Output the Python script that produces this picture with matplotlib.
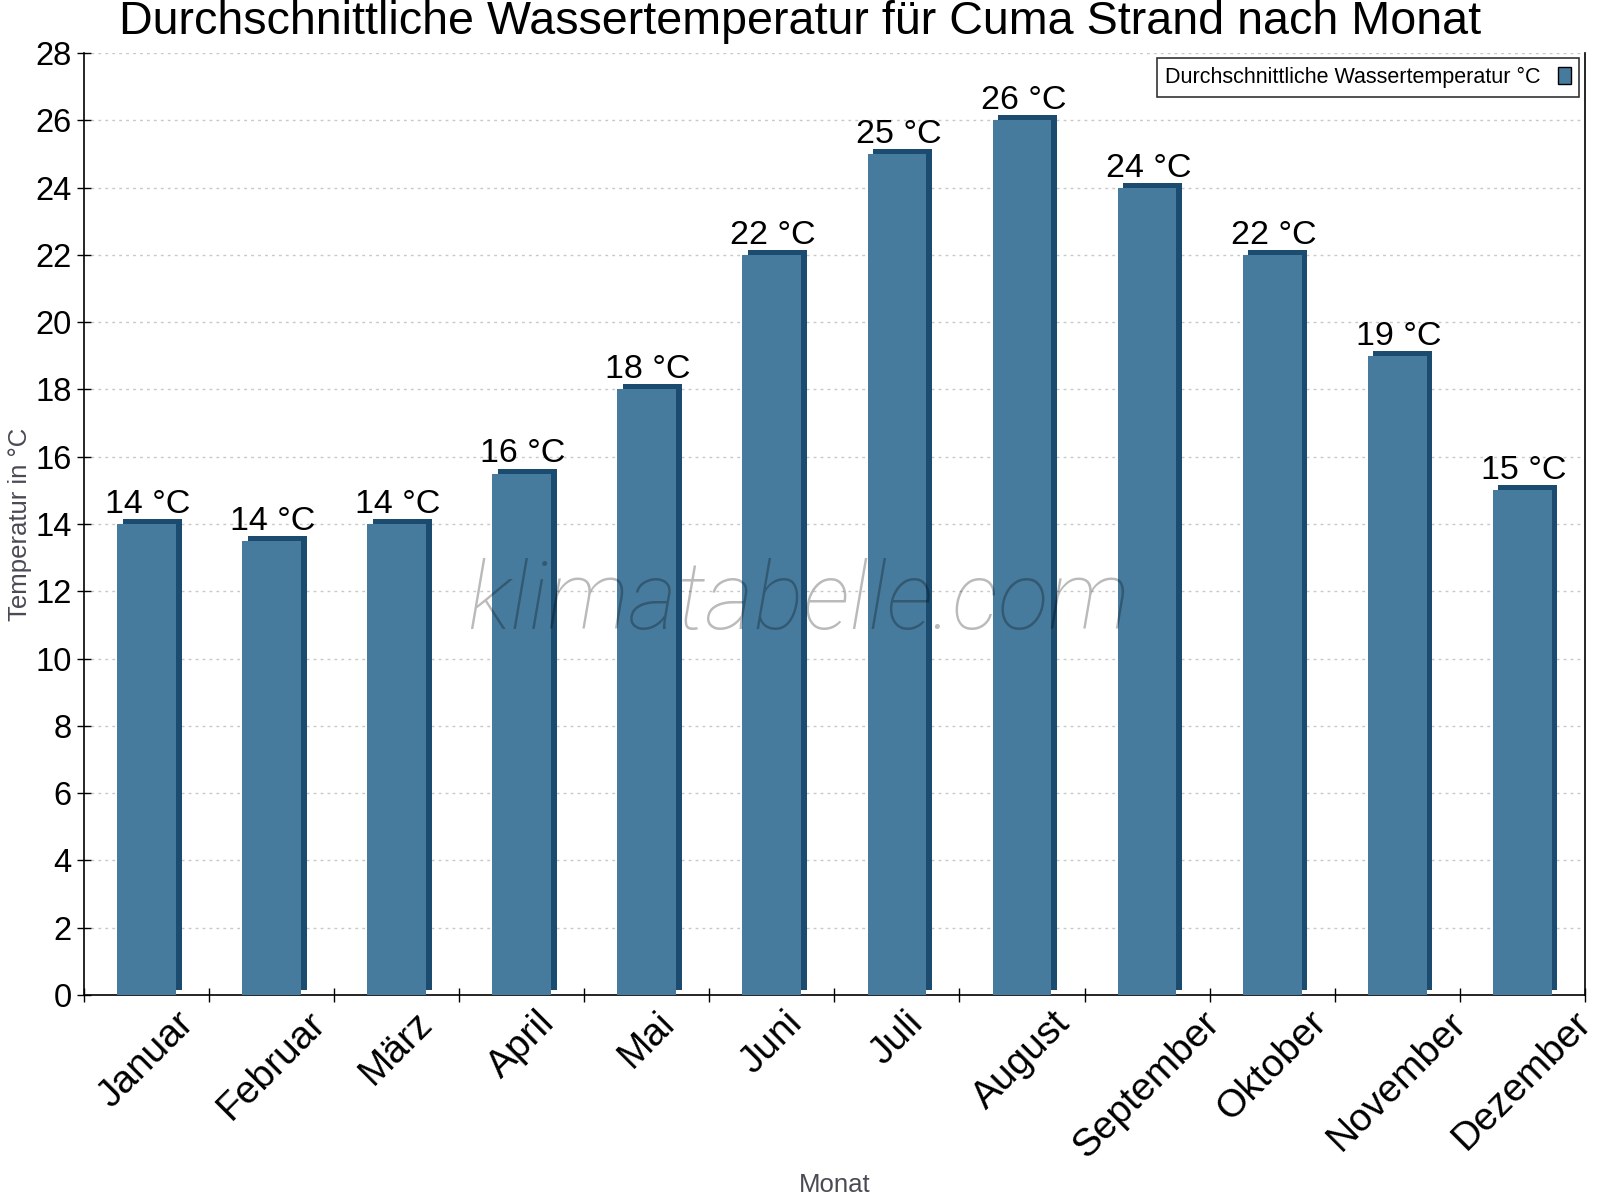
import matplotlib
matplotlib.use("Agg")
import matplotlib.pyplot as plt
from matplotlib.transforms import ScaledTranslation
from matplotlib.ticker import MultipleLocator, FixedLocator

months = ["Januar", "Februar", "März", "April", "Mai", "Juni", "Juli",
          "August", "September", "Oktober", "November", "Dezember"]
water_temp = [14, 13.5, 14, 15.5, 18, 22, 25, 26, 24, 22, 19, 15]
value_labels = ["14 °C", "14 °C", "14 °C", "16 °C", "18 °C", "22 °C", "25 °C",
                "26 °C", "24 °C", "22 °C", "19 °C", "15 °C"]
series_name = "Durchschnittliche Wassertemperatur °C"
title = "Durchschnittliche Wassertemperatur für Cuma Strand nach Monat"

plt.rcParams['font.family'] = ['Liberation Sans', 'DejaVu Sans']

face = "#467b9d"
dark = "#1b4b6f"

fig = plt.figure(figsize=(16, 12), dpi=100)
ax = fig.add_axes([0.0525, 0.1708, 0.938, 0.785])

x = list(range(len(months)))
width = 0.47

# 3D-like depth: dark copy of bars shifted right/up
shift = ax.transData + ScaledTranslation(0.056, 0.05, fig.dpi_scale_trans)
ax.bar(x, water_temp, width=width, color=dark, transform=shift, zorder=2)
bars = ax.bar(x, water_temp, width=width, color=face, zorder=3, label=series_name)

for xi, v, lab in zip(x, water_temp, value_labels):
    ax.annotate(lab, (xi, v), xytext=(1, 8), textcoords="offset points",
                ha="center", va="baseline", fontsize=24.5, color="black", zorder=5)

ax.set_xlim(-0.5, len(months) - 0.5)
ax.set_ylim(0, 28)
ax.yaxis.set_major_locator(MultipleLocator(2))
ax.set_xticks(x)
ax.set_xticklabels(months, rotation=45, ha="center", va="top", fontsize=28)
ax.xaxis.set_minor_locator(FixedLocator([i + 0.5 for i in range(-1, len(months))]))
ax.tick_params(axis="x", which="major", length=0, pad=7)
ax.tick_params(axis="x", which="minor", direction="inout", length=10, width=1)
ax.tick_params(axis="y", which="major", direction="inout", length=10, width=1,
               labelsize=23.5, pad=4)

ax.grid(axis="y", color="#c8c8c8", linestyle=(0, (2, 3)), linewidth=1, zorder=0)
ax.set_axisbelow(True)

for s in ["left", "bottom", "right"]:
    ax.spines[s].set_color("black")
    ax.spines[s].set_linewidth(1.2)
ax.spines["top"].set_visible(False)

ax.set_ylabel("Temperatur in °C", fontsize=18.5, color="#4a4a55", labelpad=2)
ax.set_xlabel("Monat", fontsize=18.5, color="#4a4a55", labelpad=6)

fig.text(0.5, 0.982, title, ha="center", va="center", fontsize=33.6, color="black")

fig.text(0.499, 0.497, "klimatabelle.com", ha="center", va="center", fontsize=67.5,
         style="italic", fontweight="light", family=["Roboto", "DejaVu Sans"],
         color="black", alpha=0.27, zorder=10)

leg = ax.legend(loc="upper right", fontsize=15.5, frameon=True, fancybox=False,
                edgecolor="black", markerfirst=False, handlelength=0.6,
                handleheight=0.85, borderaxespad=0.25, handletextpad=0.8,
                borderpad=0.4)
leg.get_frame().set_linewidth(1.2)
for h in leg.legend_handles:
    h.set_edgecolor("black")
    h.set_linewidth(1)

fig.savefig("out.png", dpi=100)
